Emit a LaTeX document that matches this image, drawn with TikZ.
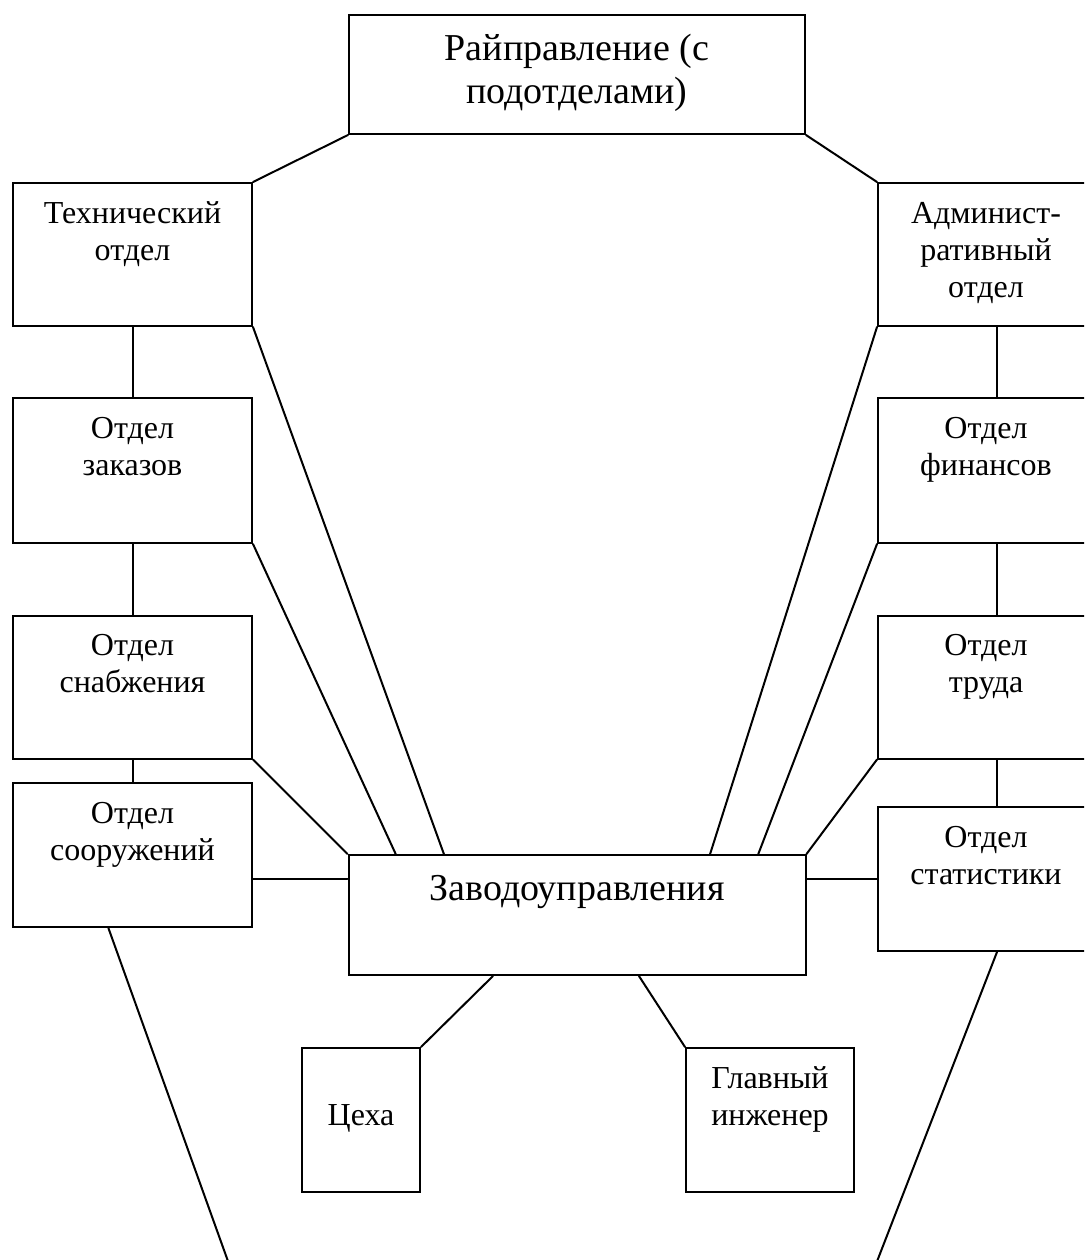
\documentclass[tikz,border=0pt]{standalone}
\usepackage{fontspec}
\setmainfont{Liberation Serif}
\usetikzlibrary{calc}
\newcommand{\boxtext}[4]{\parbox[c][#2][t]{#1}{\centering\rule{0pt}{#3}#4}}

\begin{document}
\begin{tikzpicture}[x=0.5pt,y=-0.5pt,line width=1pt]
\tikzstyle{dept}=[draw,inner sep=0pt,font=\fontsize{16}{18.5}\selectfont];
\tikzstyle{head}=[draw,inner sep=0pt,font=\fontsize{19}{21.5}\selectfont];
\tikzstyle{link}=[line cap=round];
\useasboundingbox (0,0) rectangle (1084,1260);
\clip (0,0) rectangle (1084,1260);
\coordinate (trunk) at (997,0);
\node [head] (rai) at (577,74.5) {\boxtext{228pt}{59.5pt}{22.5pt}{Райправление (с\\подотделами)}};
\node [dept] (tech) at (132.5,254.5) {\boxtext{119.5pt}{71.5pt}{20pt}{Технический\\отдел}};
\node [dept] (zak) at (132.5,470.5) {\boxtext{119.5pt}{72.5pt}{20pt}{Отдел\\заказов}};
\node [dept] (snab) at (132.5,687) {\boxtext{119.5pt}{71.5pt}{20pt}{Отдел\\снабжения}};
\node [dept] (soor) at (132.5,855) {\boxtext{119.5pt}{72pt}{20pt}{Отдел\\сооружений}};
\node [dept] (adm) at (986,254.5) {\boxtext{108pt}{71.5pt}{20pt}{Админист-\\ративный\\отдел}};
\node [dept] (fin) at (986,470.5) {\boxtext{108pt}{72.5pt}{20pt}{Отдел\\финансов}};
\node [dept] (trud) at (986,687) {\boxtext{108pt}{71.5pt}{20pt}{Отдел\\труда}};
\node [dept] (stat) at (986,879) {\boxtext{108pt}{72pt}{20pt}{Отдел\\статистики}};
\node [head] (zav) at (577,915) {\boxtext{228.5pt}{60pt}{22.5pt}{Заводоуправления}};
\node [dept] (ceh) at (361,1120) {\boxtext{59pt}{72pt}{20pt}{\mbox{}\\Цеха}};
\node [dept] (glav) at (770,1120) {\boxtext{84pt}{72pt}{20pt}{Главный\\инженер}};
\coordinate (endL) at (229,1264);
\coordinate (endR) at (876,1264);
% upper links
\draw [link] (rai.south west) -- (tech.north east);
\draw [link] (rai.south east) -- (adm.north west);
\draw [link] (tech.south) -- (zak.north);
\draw [link] (zak.south) -- (snab.north);
\draw [link] (snab.south) -- (soor.north);
\draw [link] (adm.south -| trunk) -- (fin.north -| trunk);
\draw [link] (fin.south -| trunk) -- (trud.north -| trunk);
\draw [link] (trud.south -| trunk) -- (stat.north -| trunk);
% links to zav
\draw [link] (tech.south east) -- ($(zav.north west)!0.21!(zav.north east)$);
\draw [link] (zak.south east) -- ($(zav.north west)!0.105!(zav.north east)$);
\draw [link] (snab.south east) -- (zav.north west);
\draw [link] (soor.east |- stat.center) -- (zav.west |- stat.center);
\draw [link] (adm.south west) -- ($(zav.north west)!0.79!(zav.north east)$);
\draw [link] (fin.south west) -- ($(zav.north west)!0.895!(zav.north east)$);
\draw [link] (trud.south west) -- (zav.north east);
\draw [link] (stat.west) -- (zav.east |- stat.west);
% lower links
\draw [link] ($(zav.south west)!0.317!(zav.south east)$) -- (ceh.north east);
\draw [link] ($(zav.south west)!0.635!(zav.south east)$) -- (glav.north west);
\draw [link] ($(soor.south west)!0.4!(soor.south east)$) -- (endL);
\draw [link] (stat.south -| trunk) -- (endR);
\end{tikzpicture}
\end{document}
